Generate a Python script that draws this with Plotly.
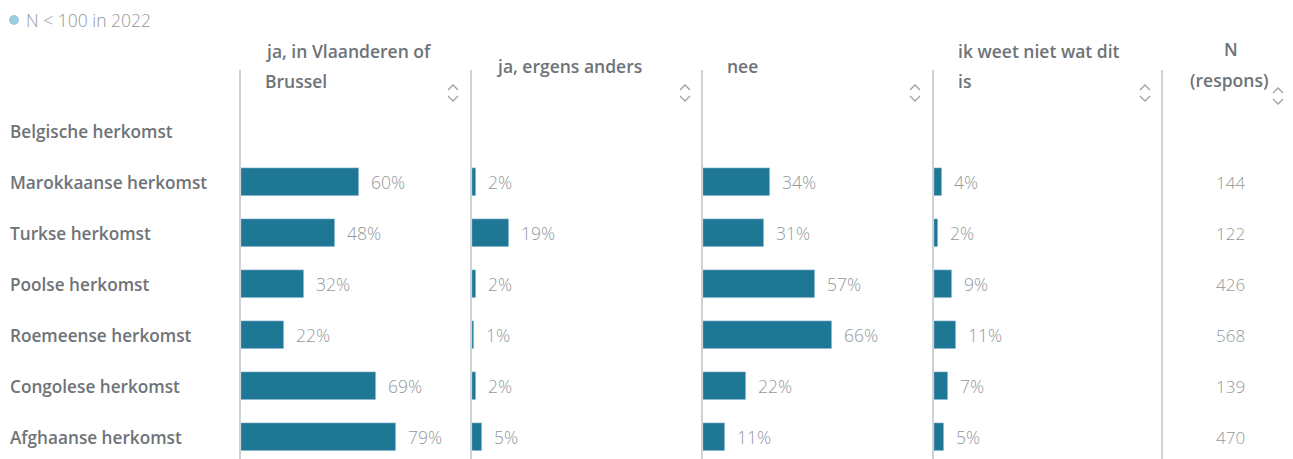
import plotly.graph_objects as go

categories = ["Belgische herkomst", "Marokkaanse herkomst", "Turkse herkomst",
              "Poolse herkomst", "Roemeense herkomst", "Congolese herkomst",
              "Afghaanse herkomst"]
ja_vlaanderen = [None, 60, 48, 32, 22, 69, 79]
ja_elders = [None, 2, 19, 2, 1, 2, 5]
nee = [None, 34, 31, 57, 66, 22, 11]
weet_niet = [None, 4, 2, 9, 11, 7, 5]
n_respons = [None, 144, 122, 426, 568, 139, 470]

headers = [["ja, in Vlaanderen of", "Brussel"], ["ja, ergens anders"], ["nee"],
           ["ik weet niet wat dit", "is"]]
legend_text = "N < 100 in 2022"

W, H = 1293, 459
BAR = "#1f7796"
FONT = "Open Sans"
TXT = "#6e7378"
LIGHT = "#92989e"
LINE = "#cfd2d5"

def px(x):
    return x / W

def py(y):
    return 1 - y / H

series = [ja_vlaanderen, ja_elders, nee, weet_niet]
col_left = [241, 472, 703, 934]
col_w = 231
pct_per_px = 1 / 1.96

fig = go.Figure()
annotations = []
shapes = []

for i, vals in enumerate(series):
    ax = "" if i == 0 else str(i + 1)
    fig.add_trace(go.Bar(
        x=vals, y=categories, orientation="h", marker_color=BAR,
        width=0.54, xaxis="x" + ax, yaxis="y", hoverinfo="x+y",
        showlegend=False))
    for c, v in zip(categories, vals):
        if v is None:
            continue
        annotations.append(dict(
            x=v, y=c, xref="x" + ax, yref="y", text=f"{v}%", showarrow=False,
            xanchor="left", xshift=10,
            font=dict(family=FONT, size=17.5, color=LIGHT, weight=300)))
    fig.update_layout(**{
        "xaxis" + ax: dict(domain=[px(col_left[i]), px(col_left[i] + col_w)],
                           range=[0, col_w * pct_per_px], showgrid=False,
                           zeroline=False, showticklabels=False, fixedrange=True,
                           anchor="y")})

# N column
for c, n in zip(categories, n_respons):
    if n is None:
        continue
    annotations.append(dict(x=px(1230), y=c, xref="paper", yref="y", text=str(n),
                            showarrow=False, xanchor="center",
                            font=dict(family=FONT, size=17, color=LIGHT, weight=300)))

# row labels
for c in categories:
    annotations.append(dict(x=px(8), y=c, xref="paper", yref="y", text=c,
                            showarrow=False, xanchor="left",
                            font=dict(family=FONT, size=17.2, color=TXT, weight=600)))

# headers
hx = [263, 494, 725, 956]
hfont = dict(family=FONT, size=17.5, color=TXT, weight=600)
for i, lines in enumerate(headers):
    ys = [51, 81] if len(lines) == 2 else [66]
    for t, y in zip(lines, ys):
        annotations.append(dict(x=px(hx[i]), y=py(y), xref="paper", yref="paper",
                                text=t, showarrow=False, xanchor="left",
                                yanchor="middle", font=hfont))
annotations.append(dict(x=px(1231), y=py(49), xref="paper", yref="paper", text="N",
                        showarrow=False, xanchor="center", yanchor="middle",
                        font=hfont))
annotations.append(dict(x=px(1229), y=py(80), xref="paper", yref="paper",
                        text="(respons)", showarrow=False, xanchor="center",
                        yanchor="middle", font=hfont))

# legend
shapes.append(dict(type="circle", xref="paper", yref="paper",
                   x0=px(9), x1=px(19), y0=py(15), y1=py(25),
                   fillcolor="#9fcde0", line=dict(width=0)))
annotations.append(dict(x=px(24), y=py(20), xref="paper", yref="paper",
                        text=legend_text, showarrow=False, xanchor="left",
                        yanchor="middle",
                        font=dict(family=FONT, size=17.5, color=LIGHT, weight=300)))

# column separators
for x in [240, 471, 702, 933, 1162]:
    shapes.append(dict(type="line", xref="paper", yref="paper",
                       x0=px(x), x1=px(x), y0=py(70), y1=py(H),
                       line=dict(color=LINE, width=2)))

# sort icons
for x, cy in [(453, 93), (685, 93), (915, 93), (1145, 93), (1278, 96)]:
    up = f"M {px(x-5)},{py(cy-3)} L {px(x)},{py(cy-8)} L {px(x+5)},{py(cy-3)}"
    dn = f"M {px(x-5)},{py(cy+3)} L {px(x)},{py(cy+8)} L {px(x+5)},{py(cy+3)}"
    for p in (up, dn):
        shapes.append(dict(type="path", xref="paper", yref="paper", path=p,
                           line=dict(color="#9aa0a6", width=1.3)))

fig.update_layout(
    width=W, height=H, margin=dict(l=0, r=0, t=0, b=0),
    plot_bgcolor="white", paper_bgcolor="white", barmode="group", bargap=0,
    yaxis=dict(type="category", categoryorder="array", categoryarray=categories,
               range=[(H - 131) / 51, -131 / 51], domain=[0, 1],
               showgrid=False, zeroline=False, showticklabels=False,
               fixedrange=True),
    annotations=annotations, shapes=shapes,
    font=dict(family=FONT),
)

fig.write_html("out.html", config={"displayModeBar": False},
               post_script="document.body.style.margin='0';"
                           "document.body.style.overflow='hidden';")
